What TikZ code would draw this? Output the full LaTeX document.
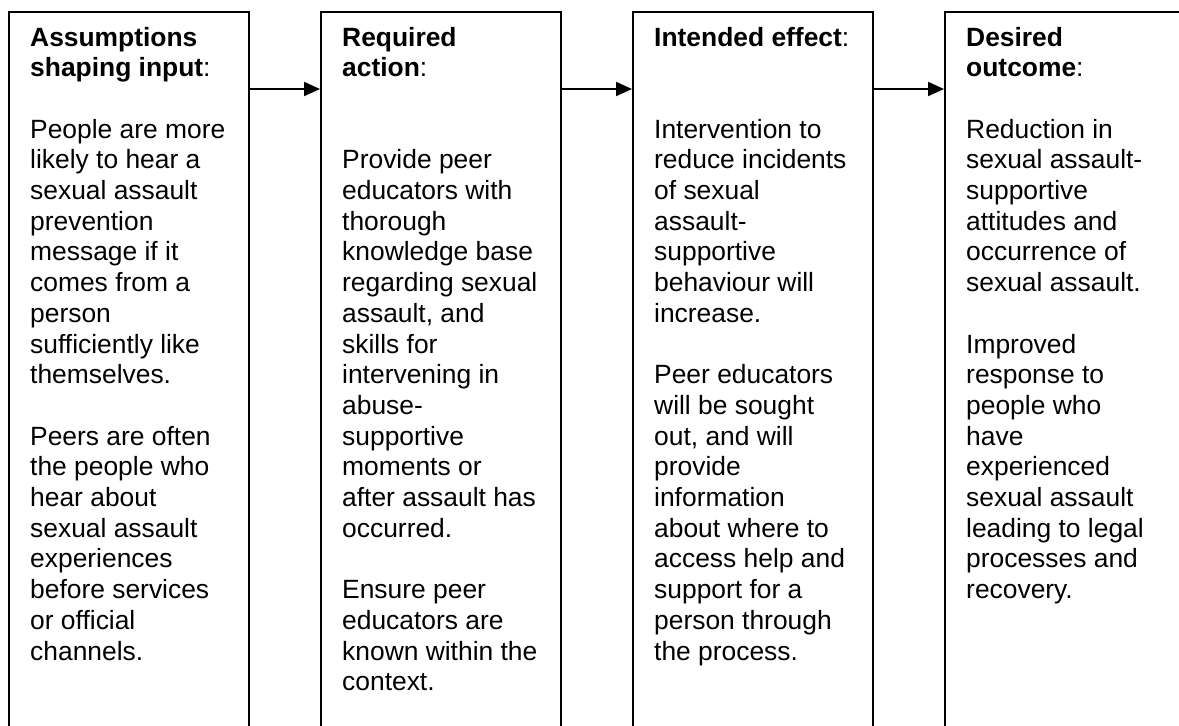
\documentclass[tikz,border=0pt]{standalone}
\usepackage{fontspec}
\setmainfont{Liberation Sans}
\usetikzlibrary{arrows.meta}
\begin{document}
\begin{tikzpicture}[x=1pt,y=1pt,
  stagebox/.style={draw, line width=2pt, minimum width=240pt, minimum height=800pt, anchor=north west, inner sep=0pt},
  txt/.style={anchor=base west, inner sep=0pt, font=\fontsize{26.4pt}{30.7pt}\selectfont},
  flow/.style={line width=2pt, -{Triangle[length=16pt,width=14pt]}}]
\useasboundingbox (0,0) rectangle (1179,-726);
\fill[white] (0,0) rectangle (1179,-726);
\clip (0,0) rectangle (1179,-726);

\node[stagebox] (b1) at (8,-11) {};
\node[stagebox] (b2) at (320,-11) {};
\node[stagebox] (b3) at (632,-11) {};
\node[stagebox] (b4) at (944,-11) {};

\node[txt] (t1) at ([xshift=22pt,yshift=-35pt]b1.north west) {\parbox[t]{225pt}{\raggedright
\textbf{Assumptions}\\
\textbf{shaping input}:\\[30.7pt]
People are more\\
likely to hear a\\
sexual assault\\
prevention\\
message if it\\
comes from a\\
person\\
sufficiently like\\
themselves.\\[30.7pt]
Peers are often\\
the people who\\
hear about\\
sexual assault\\
experiences\\
before services\\
or official\\
channels.}};

\node[txt] (t2) at ([xshift=22pt,yshift=-35pt]b2.north west) {\parbox[t]{225pt}{\raggedright
\textbf{Required}\\
\textbf{action}:\\[61.4pt]
Provide peer\\
educators with\\
thorough\\
knowledge base\\
regarding sexual\\
assault, and\\
skills for\\
intervening in\\
abuse-\\
supportive\\
moments or\\
after assault has\\
occurred.\\[30.7pt]
Ensure peer\\
educators are\\
known within the\\
context.}};

\node[txt] (t3) at ([xshift=22pt,yshift=-35pt]b3.north west) {\parbox[t]{225pt}{\raggedright
\textbf{Intended effect}:\\[61.4pt]
Intervention to\\
reduce incidents\\
of sexual\\
assault-\\
supportive\\
behaviour will\\
increase.\\[30.7pt]
Peer educators\\
will be sought\\
out, and will\\
provide\\
information\\
about where to\\
access help and\\
support for a\\
person through\\
the process.}};

\node[txt] (t4) at ([xshift=22pt,yshift=-35pt]b4.north west) {\parbox[t]{225pt}{\raggedright
\textbf{Desired}\\
\textbf{outcome}:\\[30.7pt]
Reduction in\\
sexual assault-\\
supportive\\
attitudes and\\
occurrence of\\
sexual assault.\\[30.7pt]
Improved\\
response to\\
people who\\
have\\
experienced\\
sexual assault\\
leading to legal\\
processes and\\
recovery.}};

\draw[flow] ([yshift=-78pt]b1.north east) -- ([yshift=-78pt]b2.north west);
\draw[flow] ([yshift=-78pt]b2.north east) -- ([yshift=-78pt]b3.north west);
\draw[flow] ([yshift=-78pt]b3.north east) -- ([yshift=-78pt]b4.north west);
\end{tikzpicture}
\end{document}
